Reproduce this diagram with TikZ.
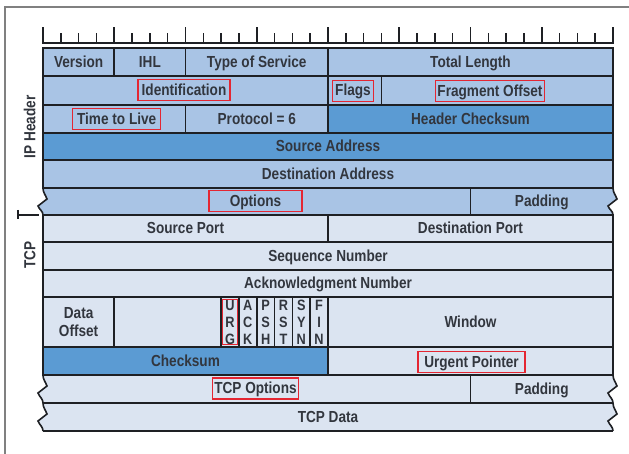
\documentclass[tikz,border=0pt]{standalone}
\usepackage{fontspec}
\usepackage{tikz}
\newfontfamily\cellfont{Liberation Sans}[FakeStretch=0.85]
\definecolor{iplight}{RGB}{169,196,229}
\definecolor{ipdark}{RGB}{91,155,211}
\definecolor{tcplight}{RGB}{219,228,241}
\definecolor{celltext}{RGB}{50,54,62}
\definecolor{cellline}{RGB}{30,32,36}
\definecolor{hilite}{RGB}{228,38,50}
\definecolor{framegray}{RGB}{128,128,128}

\begin{document}
\begin{tikzpicture}[x=1pt, y=-1pt,
	% Node styles
	cell/.style={
		rectangle,
		draw=cellline,
		fill=#1,
		line width=1.6pt,
		inner sep=0pt,
		text=celltext,
		font=\cellfont\bfseries\fontsize{16}{18}\selectfont,
		text height=11.5pt,
		text depth=1pt
	},
	label/.style={
		inner sep=0pt,
		text=celltext,
		font=\cellfont\bfseries\fontsize{16}{18}\selectfont,
		text height=11.5pt,
		text depth=1pt
	},
	redbox/.style={
		label,
		draw=hilite,
		line width=1.3pt,
		inner xsep=2pt,
		minimum height=21pt
	},
	bits/.style={
		inner sep=0pt,
		align=center,
		text=celltext,
		font=\cellfont\bfseries\fontsize{15}{17}\selectfont
	},
	side/.style={
		label,
		rotate=90
	},
	tableline/.style={
		draw=cellline,
		line width=1.6pt
	}
	]
	
	\useasboundingbox (0,0) rectangle (629,454);
	
	% Page frame
	\draw[framegray, line width=1.6pt] (629,7) -- (5,7) -- (5,454);
	
	% Bit ruler
	\draw[cellline, line width=2.2pt] (42,43) -- (614,43);
	\foreach \i in {0,...,32} {
		\pgfmathsetmacro\tick{mod(\i,4)==0 ? 16 : 10}
		\draw[cellline, line width=1.6pt] (43+\i*17.8125,43) -- ++(0,-\tick);
	}
	
	% Rows with broken ends
	\foreach \ya/\yb/\col in {188/215/iplight, 375/403/tcplight, 403/431/tcplight} {
		\fill[\col] (43,\ya) to[out=-90,in=110] (47,\ya+11) -- (38,\ya+18) to[out=-70,in=90] (43,\yb)
			-- (613,\yb) to[out=90,in=-70] (608,\ya+18) -- (617,\ya+11) to[out=110,in=-90] (613,\ya) -- cycle;
		\draw[tableline] (43,\ya) to[out=-90,in=110] (47,\ya+11) -- (38,\ya+18) to[out=-70,in=90] (43,\yb);
		\draw[tableline] (613,\ya) to[out=-90,in=110] (617,\ya+11) -- (608,\ya+18) to[out=-70,in=90] (613,\yb);
		\draw[tableline] (43,\ya) -- (613,\ya);
		\draw[tableline] (43,\yb) -- (613,\yb);
	}
	\draw[tableline] (470.5,188) -- (470.5,215);
	\draw[tableline] (470.5,375) -- (470.5,403);
	
	% IP header
	\node[cell=iplight, minimum width=71.25pt, minimum height=28pt] (version) at (78.625,62) {Version};
	\node[cell=iplight, minimum width=71.25pt, minimum height=28pt] (ihl) at (149.875,62) {IHL};
	\node[cell=iplight, minimum width=142.5pt, minimum height=28pt] (tos) at (256.75,62) {Type of Service};
	\node[cell=iplight, minimum width=285pt, minimum height=28pt] (totlen) at (470.5,62) {Total Length};
	
	\node[cell=iplight, minimum width=285pt, minimum height=29pt] (ident) at (185.5,90.5) {};
	\node[cell=iplight, minimum width=53.44pt, minimum height=29pt] (flags) at (354.72,90.5) {};
	\node[cell=iplight, minimum width=231.56pt, minimum height=29pt] (fragoff) at (497.22,90.5) {};
	\node[redbox, minimum width=92pt] (identlbl) at (184,90) {Identification};
	\node[redbox, minimum width=40.5pt] (flagslbl) at (353,90.7) {Flags};
	\node[redbox, minimum width=105pt] (fragofflbl) at (490,91) {Fragment Offset};
	
	\node[cell=iplight, minimum width=142.5pt, minimum height=28pt] (ttl) at (114.25,119) {};
	\node[redbox, minimum width=88pt] (ttllbl) at (116.7,119) {Time to Live};
	\node[cell=iplight, minimum width=142.5pt, minimum height=28pt] (proto) at (256.75,119) {Protocol = 6};
	\node[cell=ipdark, minimum width=285pt, minimum height=28pt] (hdrsum) at (470.5,119) {Header Checksum};
	
	\node[cell=ipdark, minimum width=570pt, minimum height=27pt] (srcaddr) at (328,146.5) {Source Address};
	\node[cell=iplight, minimum width=570pt, minimum height=28pt] (dstaddr) at (328,174) {Destination Address};
	
	\node[redbox, minimum width=93pt] (ipopts) at (255.5,201) {Options};
	\node[label] (ippad) at (541.75,201.5) {Padding};
	
	% TCP header
	\node[cell=tcplight, minimum width=285pt, minimum height=27pt] (srcport) at (185.5,228.5) {Source Port};
	\node[cell=tcplight, minimum width=285pt, minimum height=27pt] (dstport) at (470.5,228.5) {Destination Port};
	\node[cell=tcplight, minimum width=570pt, minimum height=28pt] (seqnum) at (328,256) {Sequence Number};
	\node[cell=tcplight, minimum width=570pt, minimum height=27pt] (acknum) at (328,283.5) {Acknowledgment Number};
	
	\node[cell=tcplight, minimum width=71.25pt, minimum height=50pt] (dataoff) at (78.625,322) {};
	\node[bits, font=\cellfont\bfseries\fontsize{16}{18}\selectfont] (dataofflbl) at (dataoff) {Data\\Offset};
	\node[cell=tcplight, minimum width=106.875pt, minimum height=50pt] (reserved) at (167.6875,322) {};
	\foreach \a/\b/\c [count=\i from 0] in {U/R/G, A/C/K, P/S/H, R/S/T, S/Y/N, F/I/N} {
		\node[cell=tcplight, minimum width=17.8125pt, minimum height=50pt] (flag\i) at (230.03+\i*17.8125,322) {};
		\node[bits] (flaglbl\i) at (flag\i) {\a\\\b\\\c};
	}
	\node[redbox, minimum width=15.5pt, minimum height=45pt] (urgbox) at (flag0) {};
	\node[cell=tcplight, minimum width=285pt, minimum height=50pt] (window) at (470.5,322) {Window};
	
	\node[cell=ipdark, minimum width=285pt, minimum height=28pt] (tcpsum) at (185.5,361) {Checksum};
	\node[cell=tcplight, minimum width=285pt, minimum height=28pt] (urgptr) at (470.5,361) {};
	\node[redbox, minimum width=107pt] (urgptrlbl) at (471.5,362) {Urgent Pointer};
	
	\node[redbox, minimum width=83pt] (tcpopts) at (255.5,388.5) {TCP Options};
	\node[label] (tcppad) at (541.75,389) {Padding};
	\node[label] (tcpdata) at (328,417) {TCP Data};
	
	% Side labels
	\node[side] (iplbl) at (30,127) {IP Header};
	\node[side] (tcplbl) at (30,255) {TCP};
	\draw[tableline, line width=1.4pt] (18,210) -- (18,219);
	\draw[tableline, line width=1.4pt] (18,215) -- (39,215);
	
\end{tikzpicture}
\end{document}
